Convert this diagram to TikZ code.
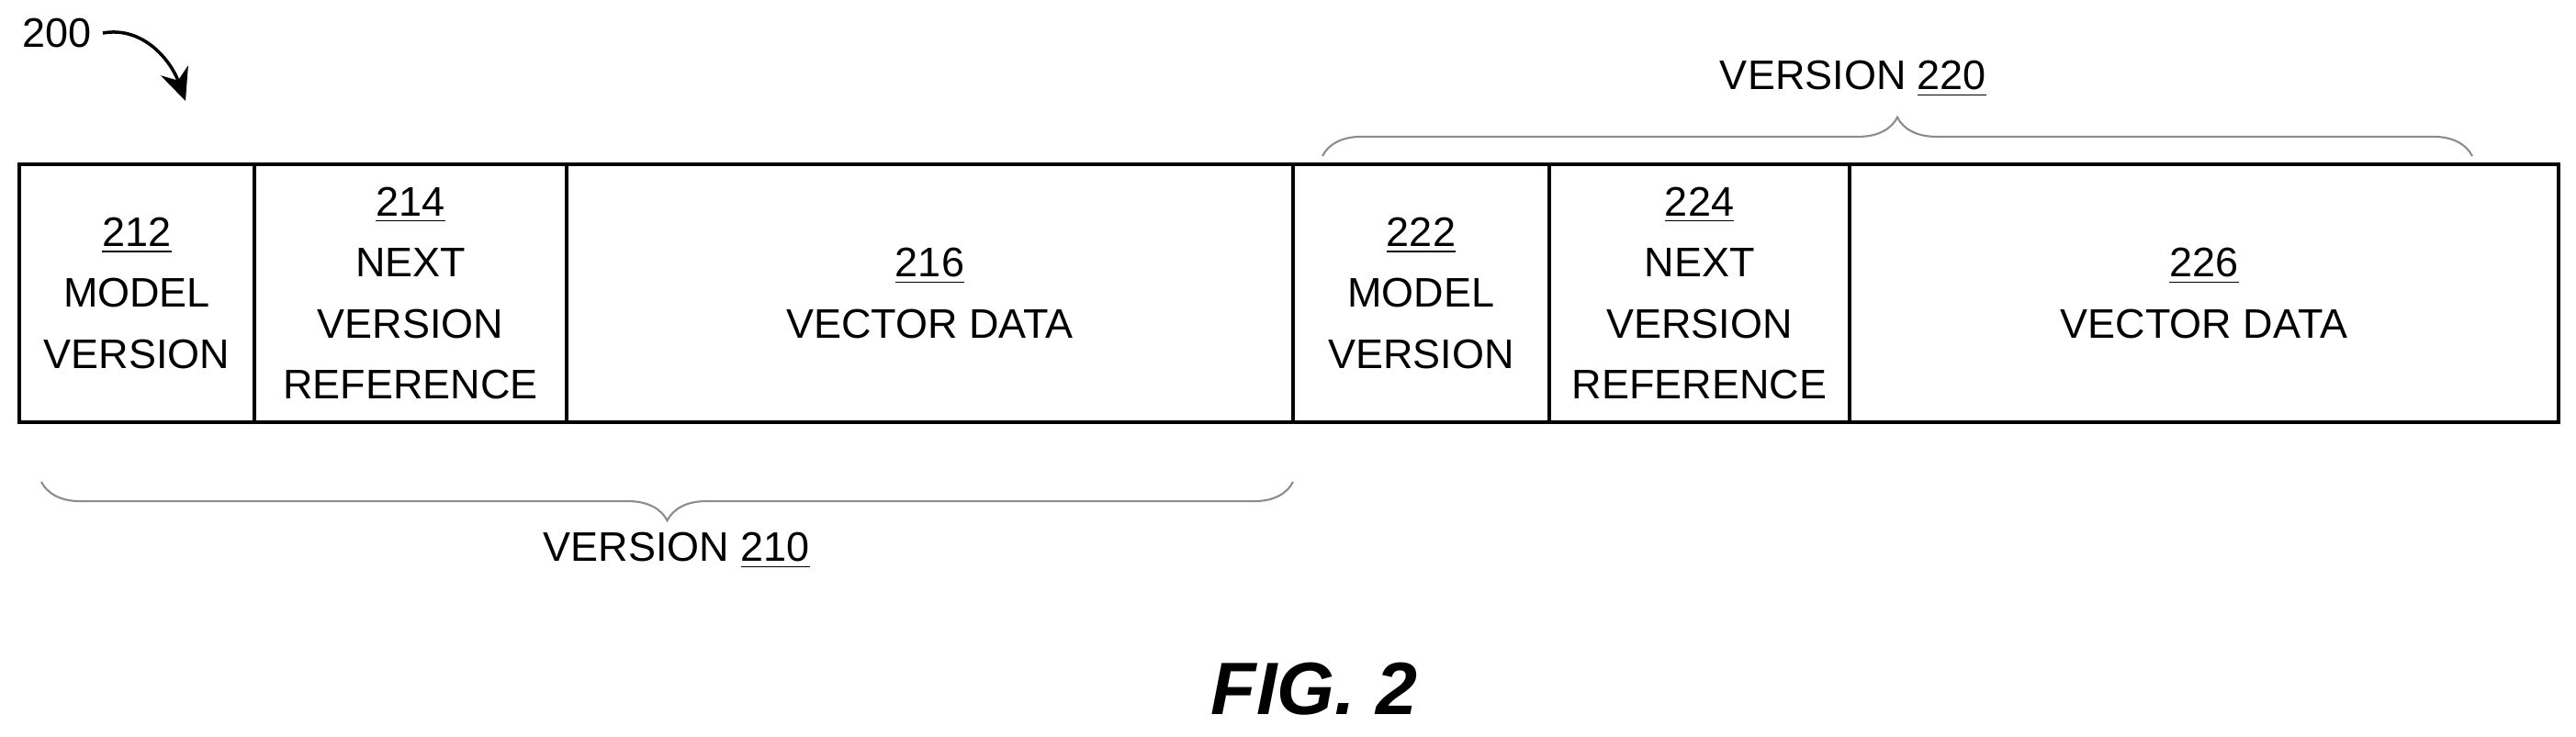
\documentclass[tikz,border=0pt]{standalone}
\usepackage{fontspec}
\setmainfont{Liberation Sans}
\usetikzlibrary{positioning,decorations.pathreplacing,arrows.meta}

\tikzset{
  cell/.style={draw, line width=1.3pt, minimum height=2.81cm, inner sep=0pt, outer sep=0pt,
               align=center, font=\fontsize{12.8}{18.8}\selectfont},
  brc/.style={draw=black!45, line width=0.6pt, decorate, decoration={brace, amplitude=12pt}},
  lbl/.style={font=\fontsize{12.8}{14}\selectfont}
}

\begin{document}
\begin{tikzpicture}
  \useasboundingbox (0,0) rectangle (28.05,-8.03);
  % first version
  \node [cell, minimum width=2.56cm, anchor=north west] (mv1) at (0.21,-1.79) {\underline{212}\\MODEL\\VERSION};
  \node [cell, minimum width=3.40cm, right=0pt of mv1] (nv1) {\underline{214}\\NEXT\\VERSION\\REFERENCE};
  \node [cell, minimum width=7.91cm, right=0pt of nv1] (vd1) {\underline{216}\\VECTOR DATA};
  % second version
  \node [cell, minimum width=2.79cm, right=0pt of vd1] (mv2) {\underline{222}\\MODEL\\VERSION};
  \node [cell, minimum width=3.27cm, right=0pt of mv2] (nv2) {\underline{224}\\NEXT\\VERSION\\REFERENCE};
  \node [cell, minimum width=7.72cm, right=0pt of nv2] (vd2) {\underline{226}\\VECTOR DATA};
  % braces
  \coordinate (b1a) at (0.45,-5.25);
  \coordinate (b1b) at (14.08,-5.25);
  \draw [brc, decoration={mirror}] (b1a) -- (b1b);
  \node [lbl] (ver1) at (7.37,-6.00) {VERSION \underline{210}};
  \coordinate (b2a) at (14.40,-1.70);
  \coordinate (b2b) at (26.92,-1.70);
  \draw [brc] (b2a) -- (b2b);
  \node [lbl] (ver2) at (20.18,-0.86) {VERSION \underline{220}};
  % figure label
  \node [lbl] (ref) at (0.62,-0.36) {200};
  \coordinate (tip) at (2.02,-1.10);
  \draw [line width=1pt, -{Stealth[length=10pt,width=9pt]}] (ref.east) to[out=10,in=110] (tip);
  \node [font=\fontsize{23}{28}\selectfont\bfseries\itshape] (fig) at (14.31,-7.51) {FIG. 2};
\end{tikzpicture}
\end{document}
